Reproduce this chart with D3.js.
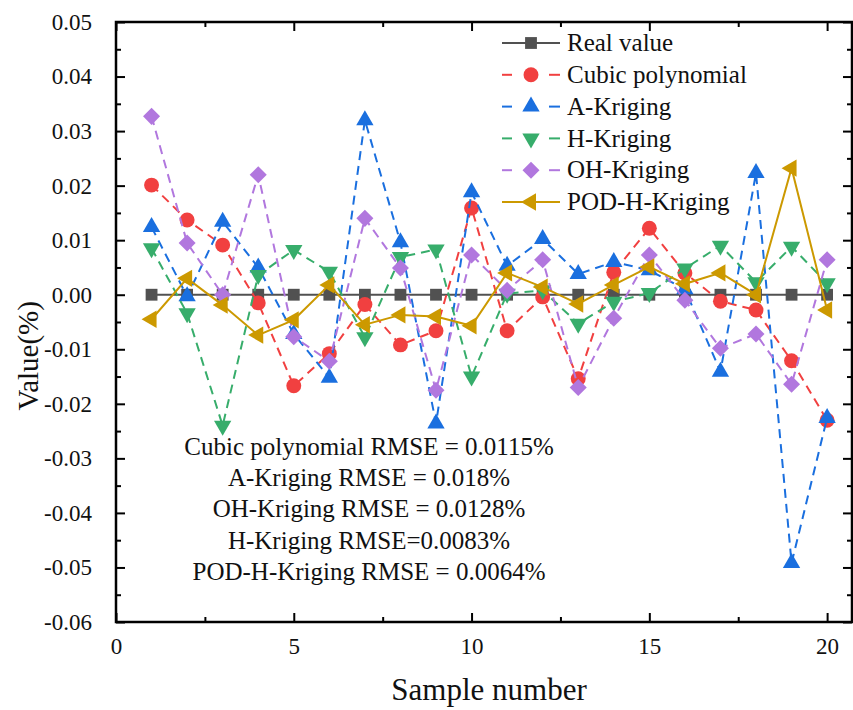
<!DOCTYPE html>
<html>
<head>
<meta charset="utf-8">
<script src="https://cdn.jsdelivr.net/npm/d3@7"></script>
<style>
  body { margin: 0; background: #fff; }
  svg text { font-family: "Liberation Serif", "Times New Roman", serif; fill: #111; }
</style>
</head>
<body>
<div id="chart"></div>
<script>
// sample numbers
const samples = d3.range(1, 21);

// series values (%)
const realValue = samples.map(() => 0);
const cubicPoly = [0.0201, 0.0137, 0.0091, -0.0015, -0.0167, -0.0108, -0.0018, -0.0092, -0.0066, 0.0159,
  -0.0066, -0.0004, -0.0154, 0.0041, 0.0122, 0.0040, -0.0012, -0.0028, -0.0121, -0.0230];
const aKriging = [0.0124, -0.0003, 0.0134, 0.0050, -0.0072, -0.0152, 0.0320, 0.0096, -0.0236, 0.0188,
  0.0053, 0.0102, 0.0038, 0.0060, 0.0045, 0.0010, -0.0141, 0.0223, -0.0492, -0.0226];
const hKriging = [0.0085, -0.0034, -0.0240, 0.0036, 0.0082, 0.0042, -0.0078, 0.0069, 0.0083, -0.0150,
  0.0002, 0.0008, -0.0053, -0.0013, 0.0003, 0.0048, 0.0090, 0.0023, 0.0088, 0.0021];
const ohKriging = [0.0327, 0.0095, 0.0000, 0.0220, -0.0077, -0.0122, 0.0140, 0.0049, -0.0175, 0.0073,
  0.0008, 0.0064, -0.0170, -0.0043, 0.0073, -0.0010, -0.0098, -0.0072, -0.0164, 0.0064];
const podHKriging = [-0.0045, 0.0030, -0.0019, -0.0074, -0.0046, 0.0018, -0.0055, -0.0037, -0.0040, -0.0057,
  0.0040, 0.0014, -0.0017, 0.0018, 0.0051, 0.0020, 0.0040, 0.0000, 0.0232, -0.0028];

const seriesNames = ['Real value', 'Cubic polynomial', 'A-Kriging', 'H-Kriging', 'OH-Kriging', 'POD-H-Kriging'];
const seriesValues = [realValue, cubicPoly, aKriging, hKriging, ohKriging, podHKriging];

// tick labels
const xTicks = [0, 5, 10, 15, 20];
const xMinorTicks = [2.5, 7.5, 12.5, 17.5];
const yTicks = d3.range(-6, 6).map(d => d / 100);
const yMinorTicks = d3.range(-11, 10, 2).map(d => d / 200);

// RMSE annotation lines
const rmseLines = [
  'Cubic polynomial RMSE = 0.0115%',
  'A-Kriging RMSE = 0.018%',
  'OH-Kriging RMSE = 0.0128%',
  'H-Kriging RMSE=0.0083%',
  'POD-H-Kriging RMSE = 0.0064%'
];

// styles per series
const styles = [
  { color: '#515151', dash: null, symbol: d3.symbolSquare, size: 140, rotate: 0 },
  { color: '#F14040', dash: '9,6', symbol: d3.symbolCircle, size: 175, rotate: 0 },
  { color: '#1A6FDF', dash: '9,6', symbol: d3.symbolTriangle, size: 130, rotate: 0 },
  { color: '#37AD6B', dash: '9,6', symbol: d3.symbolTriangle, size: 130, rotate: 180 },
  { color: '#B177DE', dash: '9,6', symbol: d3.symbolSquare, size: 145, rotate: 45 },
  { color: '#CC9900', dash: null, symbol: d3.symbolTriangle, size: 130, rotate: -90 }
];

const width = 853, height = 710;
const margin = { top: 22, right: 1, bottom: 88, left: 116 };
const innerW = width - margin.left - margin.right;
const innerH = height - margin.top - margin.bottom;

const svg = d3.select('#chart').append('svg')
  .attr('width', width)
  .attr('height', height);

const g = svg.append('g')
  .attr('transform', `translate(${margin.left},${margin.top})`);

const x = d3.scaleLinear().domain([0, 20.7]).range([0, innerW]);
const y = d3.scaleLinear().domain([-0.06, 0.05]).range([innerH, 0]);

// series lines and markers
const line = d3.line()
  .x((d, i) => x(samples[i]))
  .y(d => y(d));

seriesValues.forEach((vals, k) => {
  const s = styles[k];
  g.append('path')
    .datum(vals)
    .attr('d', line)
    .attr('fill', 'none')
    .attr('stroke', s.color)
    .attr('stroke-width', 2)
    .attr('stroke-dasharray', s.dash);
  g.selectAll(null)
    .data(vals)
    .enter().append('path')
    .attr('d', d3.symbol(s.symbol, s.size))
    .attr('transform', (d, i) => `translate(${x(samples[i])},${y(d)}) rotate(${s.rotate})`)
    .attr('fill', s.color);
});

// axes: ticks inside on all four sides
const tickStyle = sel => {
  sel.select('.domain').remove();
  sel.selectAll('line').attr('stroke', '#000').attr('stroke-width', 2);
  sel.selectAll('text').style('font-size', '23px').attr('fill', '#111');
};

const fmtY = d => d3.format('.2f')(d).replace('\u2212', '-');

g.append('g').attr('transform', `translate(0,${innerH})`)
  .call(d3.axisBottom(x).tickValues(xTicks).tickSizeInner(-9).tickPadding(16).tickFormat(d3.format('d')))
  .call(tickStyle);
g.append('g').attr('transform', `translate(0,${innerH})`)
  .call(d3.axisBottom(x).tickValues(xMinorTicks).tickSizeInner(-5).tickFormat(''))
  .call(tickStyle);
g.append('g')
  .call(d3.axisTop(x).tickValues(xTicks).tickSizeInner(-9).tickFormat(''))
  .call(tickStyle);
g.append('g')
  .call(d3.axisTop(x).tickValues(xMinorTicks).tickSizeInner(-5).tickFormat(''))
  .call(tickStyle);

g.append('g')
  .call(d3.axisLeft(y).tickValues(yTicks).tickSizeInner(-9).tickPadding(24).tickFormat(fmtY))
  .call(tickStyle);
g.append('g')
  .call(d3.axisLeft(y).tickValues(yMinorTicks).tickSizeInner(-5).tickFormat(''))
  .call(tickStyle);
g.append('g').attr('transform', `translate(${innerW},0)`)
  .call(d3.axisRight(y).tickValues(yTicks).tickSizeInner(-9).tickFormat(''))
  .call(tickStyle);
g.append('g').attr('transform', `translate(${innerW},0)`)
  .call(d3.axisRight(y).tickValues(yMinorTicks).tickSizeInner(-5).tickFormat(''))
  .call(tickStyle);

// frame
g.append('rect')
  .attr('width', innerW)
  .attr('height', innerH)
  .attr('fill', 'none')
  .attr('stroke', '#000')
  .attr('stroke-width', 2.5);

// legend
const legend = g.append('g').attr('transform', 'translate(386,21)');
seriesNames.forEach((name, k) => {
  const s = styles[k];
  const row = legend.append('g').attr('transform', `translate(0,${k * 31.8})`);
  if (s.dash) {
    row.append('line').attr('x1', 0).attr('x2', 10).attr('stroke', s.color).attr('stroke-width', 2);
    row.append('line').attr('x1', 47).attr('x2', 58).attr('stroke', s.color).attr('stroke-width', 2);
  } else {
    row.append('line').attr('x1', 0).attr('x2', 58).attr('stroke', s.color).attr('stroke-width', 2);
  }
  row.append('path')
    .attr('d', d3.symbol(s.symbol, s.size))
    .attr('transform', `translate(29,0) rotate(${s.rotate})`)
    .attr('fill', s.color);
  row.append('text')
    .attr('x', 65)
    .attr('dy', '0.33em')
    .style('font-size', '25px')
    .text(name);
});

// RMSE annotation
g.append('g').selectAll('text')
  .data(rmseLines)
  .enter().append('text')
  .attr('x', 253)
  .attr('y', (d, i) => 433 + i * 31.2)
  .attr('text-anchor', 'middle')
  .style('font-size', '25px')
  .text(d => d);

// axis titles
svg.append('text')
  .attr('x', 489)
  .attr('y', 700)
  .attr('text-anchor', 'middle')
  .style('font-size', '31px')
  .text('Sample number');

svg.append('text')
  .attr('transform', `translate(38,${margin.top + y(-0.0112)}) rotate(-90)`)
  .attr('text-anchor', 'middle')
  .style('font-size', '29px')
  .text('Value(%)');
</script>
</body>
</html>
